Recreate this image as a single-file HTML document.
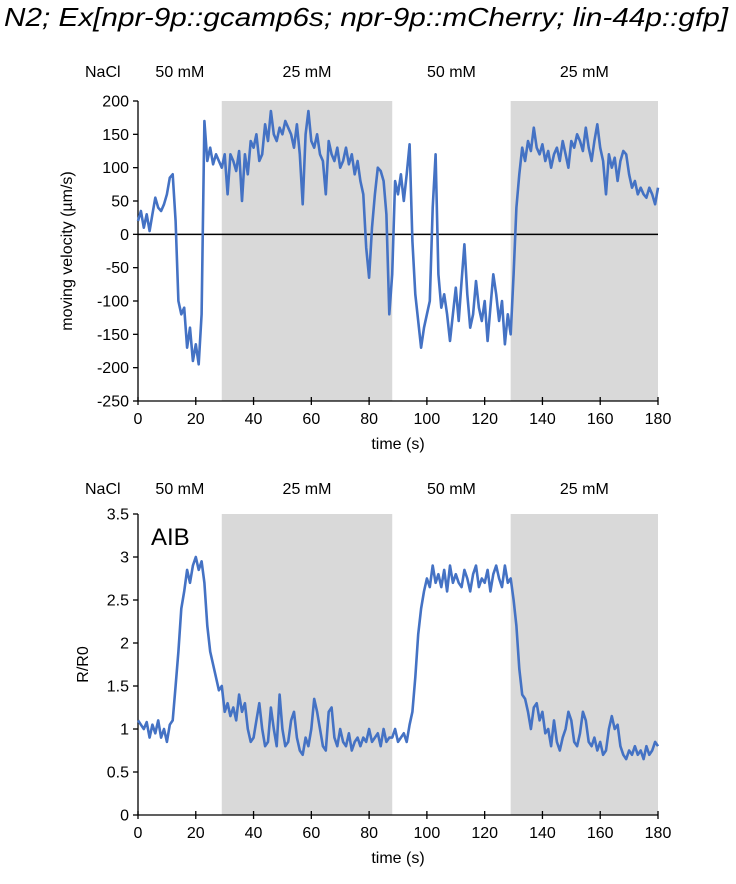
<!DOCTYPE html>
<html><head><meta charset="utf-8"><style>
body{margin:0;background:#fff;width:736px;height:879px;overflow:hidden;font-family:"Liberation Sans",sans-serif}
svg text{font-family:"Liberation Sans",sans-serif;fill:#000}
</style></head><body>
<svg id="c" width="736" height="879" xmlns="http://www.w3.org/2000/svg">
<text x="4" y="26" font-size="26" font-style="italic" textLength="724" lengthAdjust="spacingAndGlyphs">N2; Ex[npr-9p::gcamp6s; npr-9p::mCherry; lin-44p::gfp]</text>
</svg>
<script>
const velocity=[20,35,10,30,5,30,55,40,35,45,60,85,90,20,-100,-120,-110,-170,-140,-190,-165,-195,-120,170,110,130,105,120,110,100,120,60,120,110,95,125,50,120,90,140,130,150,110,120,165,140,185,150,140,160,150,170,160,150,130,165,120,45,150,185,140,130,150,120,110,60,140,120,110,130,100,110,130,105,120,90,110,80,60,-20,-65,10,60,100,95,80,30,-120,-60,80,60,90,50,90,135,-10,-90,-130,-170,-140,-120,-100,40,120,-60,-110,-90,-120,-160,-120,-80,-130,-70,-15,-90,-140,-120,-70,-110,-130,-100,-160,-110,-60,-90,-130,-100,-165,-120,-150,-60,40,90,130,110,140,125,160,130,120,135,110,125,100,120,130,110,140,120,100,140,130,150,140,125,160,130,110,140,165,130,110,60,120,100,115,80,110,125,120,90,70,80,60,70,60,55,70,60,45,70];
const ratio=[1.1,1.05,1.0,1.08,0.9,1.05,0.95,1.1,0.9,1.0,0.85,1.05,1.1,1.5,1.9,2.4,2.6,2.85,2.7,2.9,3.0,2.85,2.95,2.7,2.2,1.9,1.75,1.6,1.45,1.5,1.2,1.3,1.15,1.25,1.1,1.4,1.2,1.3,1.0,0.85,0.9,1.1,1.3,1.0,0.8,0.85,1.25,1.0,0.8,1.4,1.0,0.8,0.85,1.1,1.2,0.9,0.75,0.7,0.9,0.8,1.0,1.35,1.2,1.0,0.8,0.75,1.2,1.25,0.9,0.8,1.0,0.85,0.8,0.95,0.75,0.85,0.9,0.8,0.9,0.85,1.0,0.85,0.9,0.95,0.8,1.0,0.85,0.9,0.9,1.0,0.85,0.9,0.95,0.85,1.05,1.2,1.6,2.1,2.4,2.6,2.75,2.65,2.9,2.7,2.8,2.65,2.85,2.6,2.9,2.7,2.8,2.7,2.65,2.85,2.75,2.6,2.8,2.9,2.65,2.75,2.7,2.85,2.6,2.8,2.9,2.75,2.65,2.9,2.7,2.75,2.5,2.2,1.7,1.4,1.35,1.2,1.0,1.25,1.3,1.1,1.2,0.95,1.0,0.8,1.1,0.85,0.75,0.9,1.0,1.2,1.1,0.85,0.8,0.95,1.2,1.1,0.85,0.8,0.9,0.75,0.85,0.7,0.75,1.0,1.15,1.0,1.05,0.8,0.7,0.65,0.75,0.7,0.8,0.7,0.75,0.65,0.8,0.7,0.75,0.85,0.8];
const xTicks=[0,20,40,60,80,100,120,140,160,180];
const vTicks=[200,150,100,50,0,-50,-100,-150,-200,-250];
const rTicks=[3.5,3,2.5,2,1.5,1,0.5,0];
const lowPeriods=[[29,88],[129,180]];
const periodLabels=["50 mM","25 mM","50 mM","25 mM"];
const periodCenters=[14.5,58.5,108.5,154.5];

const svg=document.getElementById('c');
const NS='http://www.w3.org/2000/svg';
function mk(t,a,p){const e=document.createElementNS(NS,t);for(const k in a)e.setAttribute(k,a[k]);(p||svg).appendChild(e);return e;}
const X0=138,X1=658;
const xs=t=>X0+(t-0)/180*(X1-X0);

function panel(cfg){
  const g=mk('g',{});
  
  
  const ys=v=>cfg.yb+(v-cfg.min)/(cfg.max-cfg.min)*(cfg.yt-cfg.yb);
  lowPeriods.forEach((p,i)=>{const r=mk('rect',{x:xs(p[0]),y:cfg.yt,width:xs(p[1])-xs(p[0]),height:cfg.yb-cfg.yt,fill:'#d9d9d9'},g);
    
    });
  const n=mk('text',{x:85,y:cfg.labY,'font-size':16},g);n.textContent='NaCl';
  
  
  periodLabels.forEach((l,i)=>{const t=mk('text',{x:xs(periodCenters[i]),y:cfg.labY,'font-size':16,'text-anchor':'middle'},g);t.textContent=l;
    
    });
  const ax=mk('line',{x1:X0,x2:X0,y1:cfg.yt,y2:cfg.yb,stroke:'#000','stroke-width':1.3},g);
  
  
  cfg.ticks.forEach(v=>{const y=ys(v);mk('line',{x1:X0-5,x2:X0,y1:y,y2:y,stroke:'#000','stroke-width':1.3},g);
    const t=mk('text',{x:X0-9,y:y+5.5,'font-size':16,'text-anchor':'end'},g);t.textContent=v;
    
    });
  const xl=mk('line',{x1:X0,x2:X1,y1:cfg.yb,y2:cfg.yb,stroke:'#000','stroke-width':1.3},g);
  
  
  xTicks.forEach(v=>{const x=xs(v);mk('line',{x1:x,x2:x,y1:cfg.yb-4,y2:cfg.yb+4,stroke:'#000','stroke-width':1.3},g);
    const t=mk('text',{x:x,y:cfg.yb+23,'font-size':16,'text-anchor':'middle'},g);t.textContent=v;
    
    });
  const xt=mk('text',{x:(X0+X1)/2,y:cfg.yb+48,'font-size':16,'text-anchor':'middle'},g);xt.textContent='time (s)';
  
  
  const yt=mk('text',{x:0,y:0,'font-size':16,'text-anchor':'middle',transform:`translate(${cfg.ytX},${(cfg.yt+cfg.yb)/2}) rotate(-90)`},g);yt.textContent=cfg.ytitle;
  
  
  if(cfg.zero){const z=mk('line',{x1:X0,x2:X1,y1:ys(0),y2:ys(0),stroke:'#000','stroke-width':1.5},g);
    
    }
  const d=cfg.data.map((v,i)=>(i?'L':'M')+xs(i*180/(cfg.data.length-1)).toFixed(1)+','+ys(v).toFixed(1)).join('');
  const p=mk('path',{d:d,fill:'none',stroke:'#4472c4','stroke-width':2.6,'stroke-linejoin':'round'},g);
  
  
  return g;
}
panel({name:'velocity-chart',yt:101,yb:401,min:-250,max:200,ticks:vTicks,data:velocity,labY:77,ytX:72,ytitle:'moving velocity (µm/s)',zero:true,series:'velocity-line'});
panel({name:'aib-chart',yt:514,yb:815,min:0,max:3.5,ticks:rTicks,data:ratio,labY:494,ytX:88,ytitle:'R/R0',zero:false,series:'aib-ratio-line'});
const a=mk('text',{x:151,y:545,'font-size':24});a.textContent='AIB';


</script>
</body></html>
